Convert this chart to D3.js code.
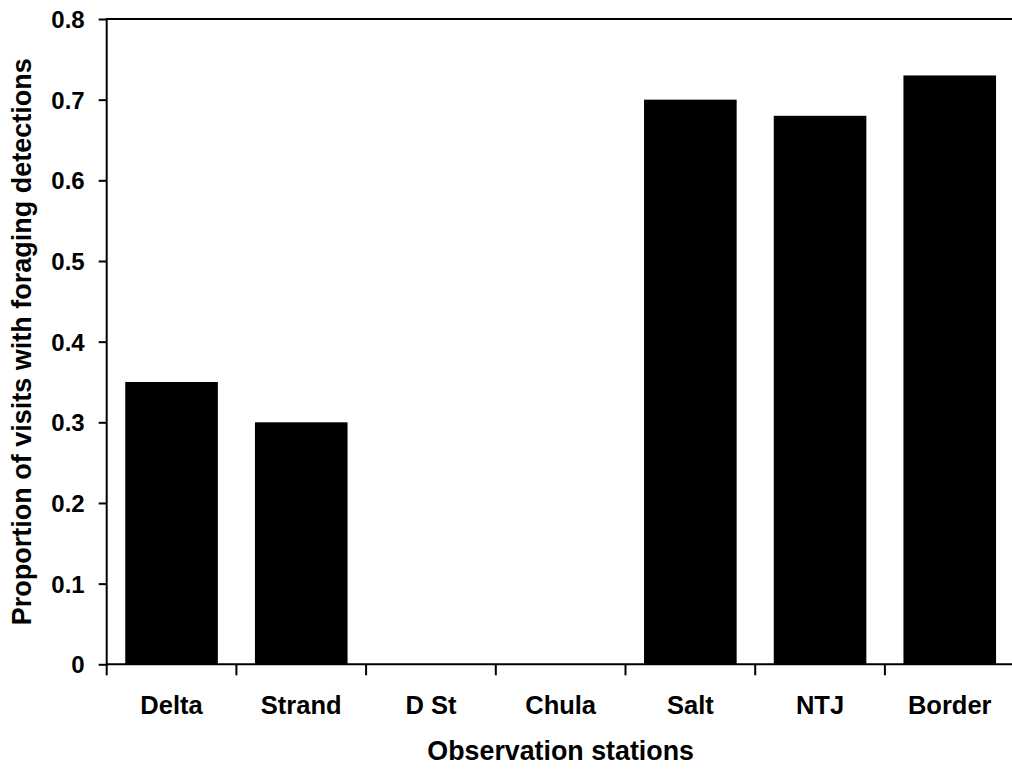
<!DOCTYPE html>
<html>
<head>
<meta charset="utf-8">
<script src="https://cdn.jsdelivr.net/npm/d3@7"></script>
<style>
  html, body { margin: 0; padding: 0; background: #fff; }
  svg { display: block; }
  text { font-family: Arial, "Liberation Sans", Helvetica, sans-serif; font-weight: bold; fill: #000; }
</style>
</head>
<body>
<svg id="chart" width="1012" height="773"></svg>
<script>
// Observation stations and the share of visits with foraging detections
const stations = ["Delta", "Strand", "D St", "Chula", "Salt", "NTJ", "Border"];
const proportions = [0.35, 0.30, 0, 0, 0.70, 0.68, 0.73];
const yTicks = [0, 0.1, 0.2, 0.3, 0.4, 0.5, 0.6, 0.7, 0.8];
const yTickLabels = ["0", "0.1", "0.2", "0.3", "0.4", "0.5", "0.6", "0.7", "0.8"];
const xTitle = "Observation stations";
const yTitle = "Proportion of visits with foraging detections";

const width = 1012, height = 773;
const margin = { left: 106.7, top: 19, right: -2.6, bottom: 108.7 };
const plotW = width - margin.left - margin.right;
const plotH = height - margin.top - margin.bottom;

const svg = d3.select("#chart");
const g = svg.append("g").attr("transform", `translate(${margin.left},${margin.top})`);

const x = d3.scaleBand()
  .domain(stations)
  .range([0, plotW])
  .paddingInner(0.286)
  .paddingOuter(0.143);

const y = d3.scaleLinear().domain([0, 0.8]).range([plotH, 0]);

// bars
g.selectAll("rect.bar")
  .data(stations.map((s, i) => ({ s, v: proportions[i] })))
  .join("rect")
  .attr("class", "bar")
  .attr("x", d => x(d.s))
  .attr("width", x.bandwidth())
  .attr("y", d => y(d.v))
  .attr("height", d => y(0) - y(d.v))
  .attr("fill", "#000");

// top frame line
g.append("line")
  .attr("x1", 0).attr("x2", width - margin.left)
  .attr("y1", y(0.8)).attr("y2", y(0.8))
  .attr("stroke", "#000").attr("stroke-width", 2);

// y axis
const yAxis = d3.axisLeft(y)
  .tickValues(yTicks)
  .tickFormat((d, i) => yTickLabels[i])
  .tickSize(8)
  .tickPadding(14);
const ya = g.append("g").call(yAxis);
ya.select(".domain").attr("stroke-width", 2).attr("d", `M0,${plotH + 1}V${y(0.8) - 1}`);
ya.selectAll(".tick line").attr("stroke-width", 2);
ya.selectAll(".tick text").style("font-size", "24px").attr("dy", "0.35em");

// x axis: base line plus ticks at band boundaries
const step = x.step();
const boundaries = stations.map(s => x(s) - step * x.paddingInner() / 2);
g.append("line")
  .attr("x1", 0).attr("x2", width - margin.left)
  .attr("y1", y(0)).attr("y2", y(0))
  .attr("stroke", "#000").attr("stroke-width", 2);
g.selectAll("line.xtick")
  .data(boundaries)
  .join("line")
  .attr("class", "xtick")
  .attr("x1", d => d).attr("x2", d => d)
  .attr("y1", y(0)).attr("y2", y(0) + 11)
  .attr("stroke", "#000").attr("stroke-width", 2);

g.selectAll("text.xlabel")
  .data(stations)
  .join("text")
  .attr("class", "xlabel")
  .attr("x", d => x(d) + x.bandwidth() / 2)
  .attr("y", plotH + 49.5)
  .attr("text-anchor", "middle")
  .style("font-size", "25.5px")
  .text(d => d);

// axis titles
g.append("text")
  .attr("x", plotW / 2)
  .attr("y", plotH + 96)
  .attr("text-anchor", "middle")
  .style("font-size", "26.8px")
  .text(xTitle);

svg.append("text")
  .attr("transform", `translate(31,${margin.top + plotH / 2}) rotate(-90)`)
  .attr("text-anchor", "middle")
  .style("font-size", "27px")
  .text(yTitle);
</script>
</body>
</html>
